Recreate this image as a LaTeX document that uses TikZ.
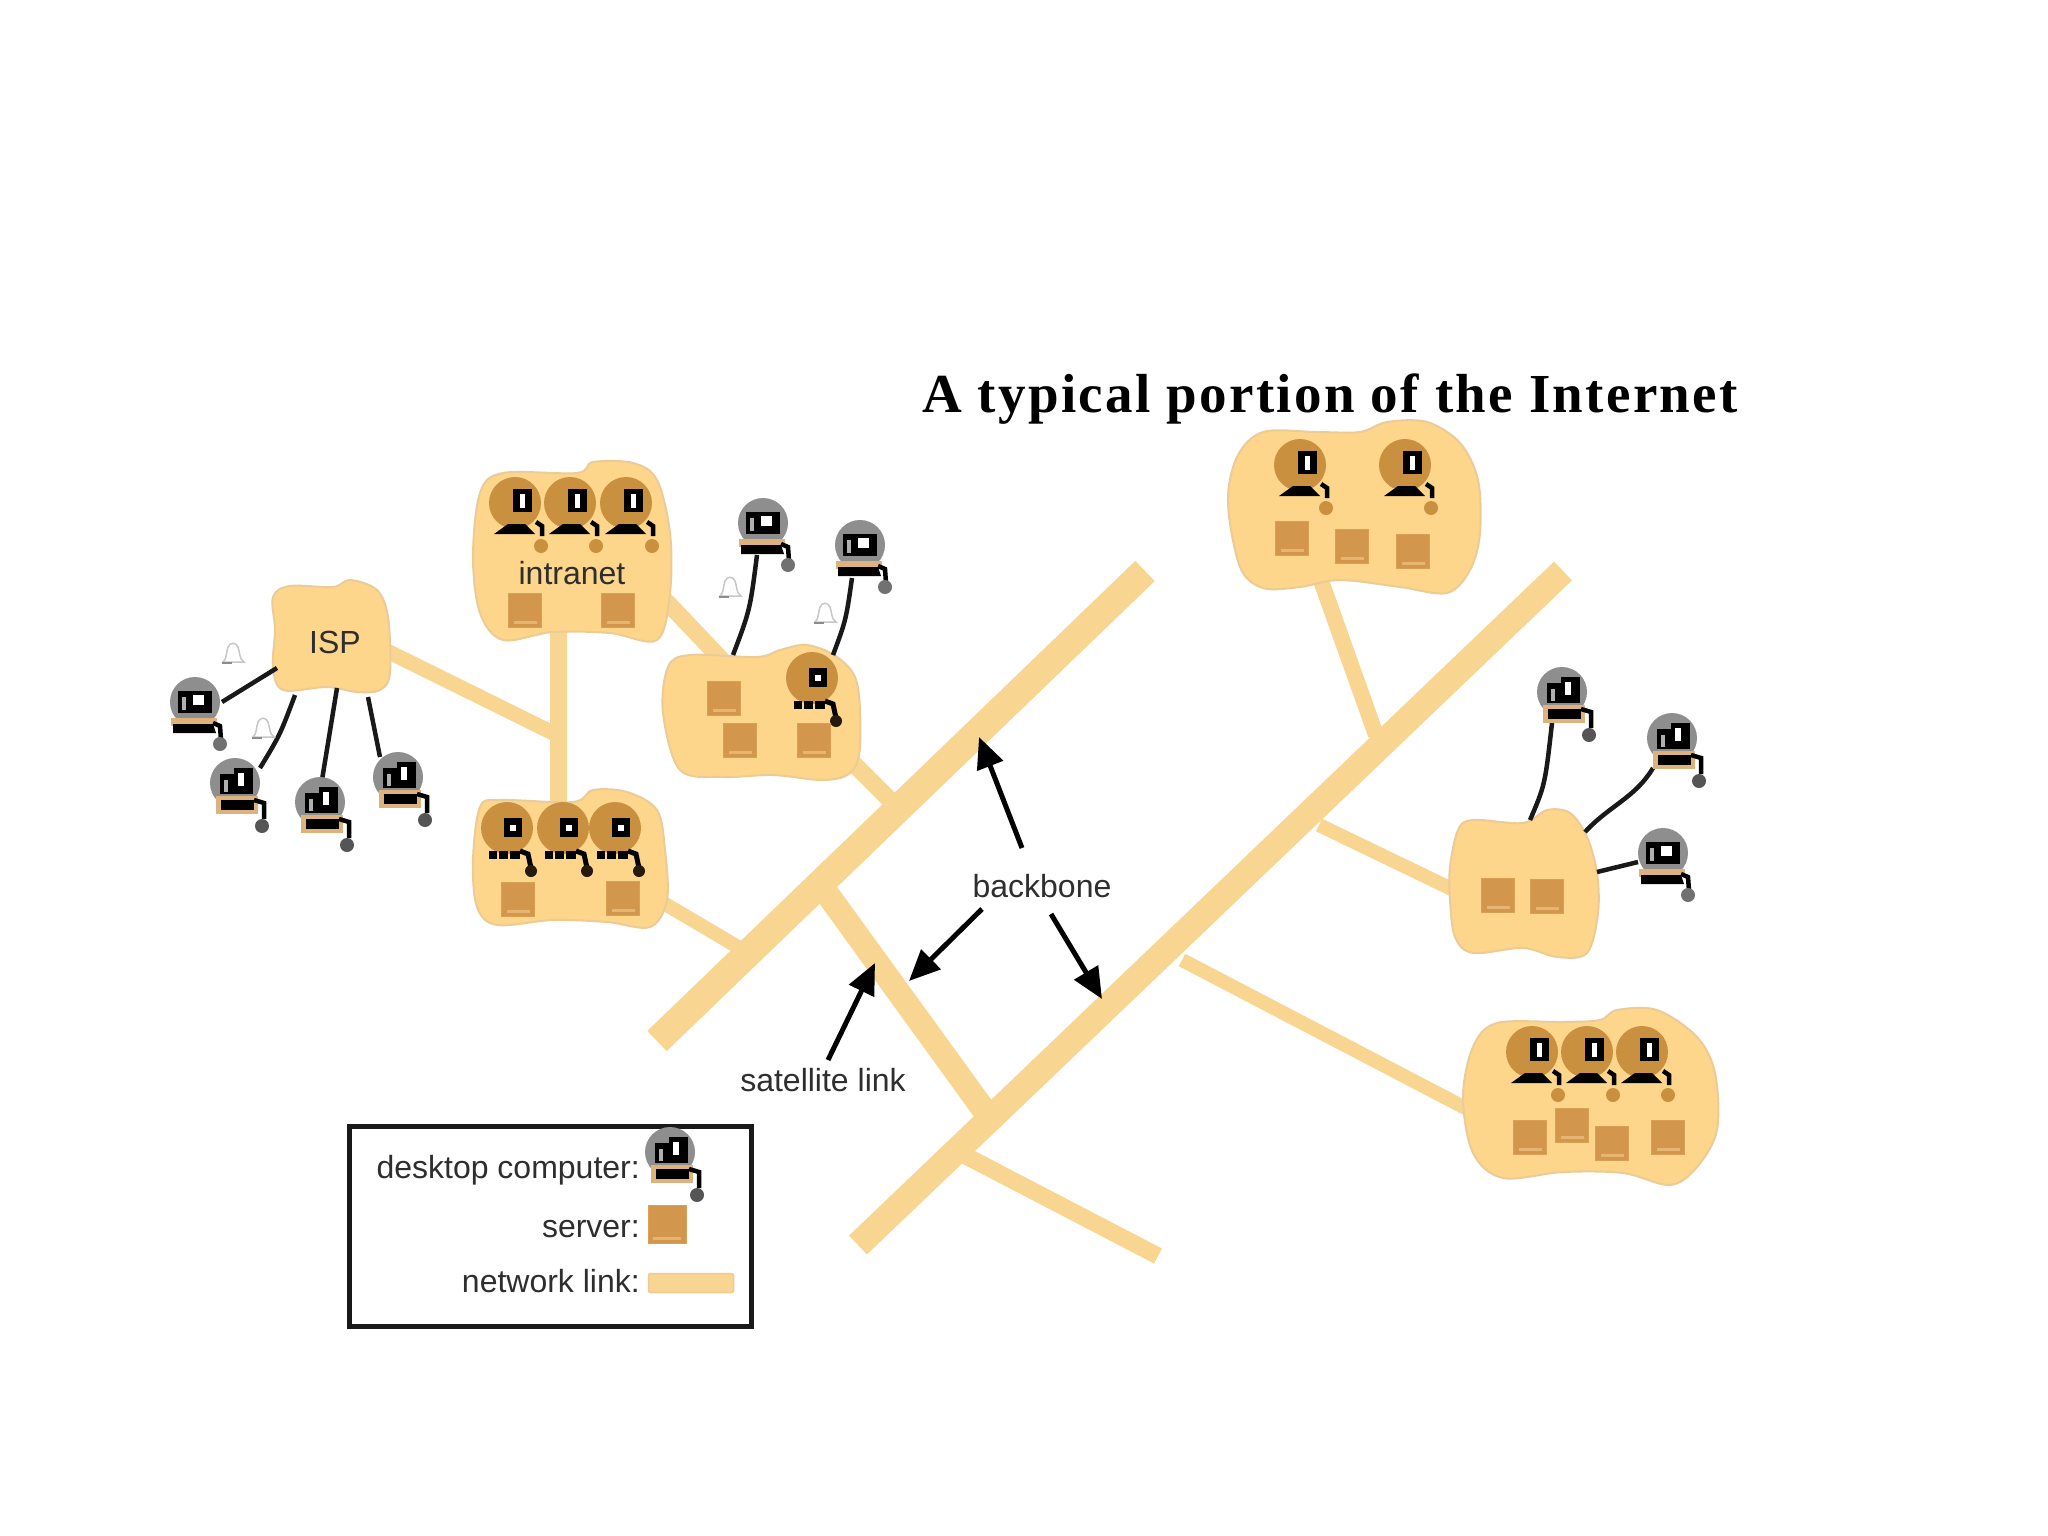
\documentclass[tikz,border=0pt]{standalone}
\usepackage{fontspec}
\setmainfont{Liberation Sans}
\newfontfamily\titlefont[LetterSpace=4.2]{Liberation Serif}
\usetikzlibrary{arrows.meta,shapes.geometric}
\definecolor{cloudfill}{HTML}{FDD68B}
\definecolor{cloudedge}{HTML}{EBCB96}
\definecolor{linkfill}{HTML}{F9D592}
\definecolor{srvfill}{HTML}{D2964C}
\definecolor{srvlight}{HTML}{E6B571}
\definecolor{pcbrown}{HTML}{C9913F}
\definecolor{pcgray}{HTML}{8E8E8E}
\definecolor{pctan}{HTML}{DDB27C}
\definecolor{inktext}{HTML}{2E2E2E}
\tikzset{
  cloudshape/.style={fill=cloudfill,draw=cloudedge,line width=2pt},
  netlink/.style={draw=linkfill,line cap=butt},
  wire/.style={draw=black!90,line width=4.5pt},
  callout/.style={draw=black,line width=5pt,-{Triangle[length=31pt,width=27pt]}},
  serverbox/.style={rectangle,fill=srvfill,draw=srvfill!85!cloudfill,line width=1pt,minimum width=33pt,minimum height=34pt,inner sep=0pt,
    path picture={\fill[srvlight] ([xshift=5pt,yshift=3pt]path picture bounding box.south west) rectangle ([xshift=-5pt,yshift=6pt]path picture bounding box.south east);}},
  lbl/.style={text=inktext,font=\fontsize{32}{36}\selectfont,inner sep=0pt,anchor=base},
  lblr/.style={lbl,anchor=base east},
  pics/extA/.style={code={
    \fill[pcgray] (0,0) circle[radius=25];
    \fill[pctan] (-24,16) rectangle (22,24);
    \fill[black] (-17,-11) rectangle (17,11);
    \fill[pcgray!70!white] (-13,-5) rectangle (-9,8);
    \fill[white] (-2,-7) rectangle (9,3);
    \fill[black] (-22,22) -- (18,22) -- (21,31) -- (-22,31) -- cycle;
    \draw[black,line width=4.5pt] (18,21) -- (25,24) -- (26,38);
    \fill[pcgray!80!black] (25,42) circle[radius=7];
  }},
  pics/extB/.style={code={
    \fill[pcgray] (0,0) circle[radius=25];
    \fill[pctan] (-19,13) rectangle (23,31);
    \fill[black] (-15,-9) rectangle (-1,11);
    \fill[black] (-1,-15) rectangle (18,11);
    \fill[white] (3,-10) rectangle (9,3);
    \fill[pcgray!70!white] (-11,-3) rectangle (-7,9);
    \fill[black] (-14,17) rectangle (19,27);
    \draw[black,line width=4.5pt] (19,17) -- (29,20) -- (29,36);
    \fill[pcgray!60!black] (27,43) circle[radius=7];
  }},
  pics/brownA/.style={code={
    \fill[pcbrown] (0,0) circle[radius=26];
    \fill[black] (-2,-14) rectangle (17,9);
    \fill[white] (5,-9) rectangle (10,5);
    \fill[black] (-7,21) -- (10,21) -- (20,31) -- (-21,31) -- cycle;
    \draw[black,line width=4.5pt] (21,19) -- (27,23) -- (27,33);
    \fill[pcbrown] (26,43) circle[radius=7];
  }},
  pics/brownB/.style={code={
    \fill[pcbrown] (0,0) circle[radius=26];
    \fill[black] (-3,-10) rectangle (15,9);
    \fill[white] (3,-3) rectangle (9,3);
    \draw[black,line width=8pt] (-18,27) -- (-10,27) (-8,27) -- (1,27) (3,27) -- (13,27);
    \draw[black,line width=5pt] (13,23) -- (21,26) -- (24,40);
    \fill[black!80!brown] (24,43) circle[radius=6];
  }},
  pics/bell/.style={code={
    \draw[black!22,line width=1.5pt] (-10,9) .. controls (-6,6) and (-7,-1) .. (-5,-6) .. controls (-3,-11) and (3,-11) .. (5,-6) .. controls (7,-1) and (6,6) .. (11,9) -- cycle;
    \draw[black!45,line width=2pt] (-11,10) -- (-1,10);
  }},
}
\begin{document}
\begin{tikzpicture}[x=1pt,y=-1pt]
\useasboundingbox (0,0) rectangle (2048,1536);
\fill[white] (0,0) rectangle (2048,1536);

% link end points
\coordinate (bb1a) at (657,1041); \coordinate (bb1b) at (1145,571);
\coordinate (bb2a) at (858,1245); \coordinate (bb2b) at (1563,571);
\coordinate (sata) at (823,888);  \coordinate (satb) at (989,1117);
\coordinate (spura) at (966,1156); \coordinate (spurb) at (1158,1256);
\coordinate (tra) at (1319,575); \coordinate (trb) at (1376,735);
\coordinate (ra) at (1319,825); \coordinate (rb) at (1460,893);
\coordinate (bra) at (1182,960); \coordinate (brb) at (1475,1113);
\coordinate (ispa) at (385,650); \coordinate (ispb) at (553,733);
\coordinate (inta) at (558,620); \coordinate (intb) at (558,810);
\coordinate (intc) at (665,600); \coordinate (midc) at (722,660);
\coordinate (midd) at (850,760); \coordinate (bb1c) at (890,800);
\coordinate (blc) at (655,898); \coordinate (bb1d) at (738,947);

% links
\draw[netlink,line width=28pt] (bb1a) -- (bb1b);
\draw[netlink,line width=26pt] (bb2a) -- (bb2b);
\draw[netlink,line width=24pt] (sata) -- (satb);
\draw[netlink,line width=17pt] (spura) -- (spurb);
\draw[netlink,line width=16pt] (tra) -- (trb);
\draw[netlink,line width=14pt] (ra) -- (rb);
\draw[netlink,line width=14pt] (bra) -- (brb);
\draw[netlink,line width=15pt] (ispa) -- (ispb);
\draw[netlink,line width=17pt] (inta) -- (intb);
\draw[netlink,line width=17pt] (intc) -- (midc);
\draw[netlink,line width=17pt] (midd) -- (bb1c);
\draw[netlink,line width=14pt] (blc) -- (bb1d);

% clouds
\draw[cloudshape] plot[smooth cycle,tension=0.55] coordinates {(273,597) (290,586) (333,587) (350,580) (377,590) (388,617) (390,673) (380,690) (357,692) (327,687) (283,690) (273,667) (275,630)};
\draw[cloudshape] plot[smooth cycle,tension=0.55] coordinates {(473,557) (480,493) (503,473) (577,473) (593,462) (633,463) (657,480) (670,533) (670,593) (657,640) (610,633) (553,632) (503,640) (480,613)};
\draw[cloudshape] plot[smooth cycle,tension=0.55] coordinates {(473,860) (480,807) (500,800) (573,802) (593,790) (627,792) (657,810) (665,850) (667,900) (650,927) (607,922) (553,920) (497,925) (477,907)};
\draw[cloudshape] plot[smooth cycle,tension=0.55] coordinates {(668,667) (690,655) (757,657) (780,650) (807,645) (837,657) (857,683) (860,747) (850,773) (823,780) (773,775) (723,777) (680,770) (663,713)};
\draw[cloudshape] plot[smooth cycle,tension=0.55] coordinates {(1228,503) (1237,457) (1263,432) (1317,432) (1360,432) (1387,422) (1427,422) (1460,443) (1478,480) (1480,533) (1470,570) (1447,593) (1400,587) (1340,580) (1300,587) (1263,588) (1240,567)};
\draw[cloudshape] plot[smooth cycle,tension=0.55] coordinates {(1450,867) (1458,830) (1473,820) (1523,823) (1547,810) (1570,813) (1587,837) (1597,873) (1598,913) (1587,953) (1557,957) (1523,948) (1473,953) (1455,937) (1450,900)};
\draw[cloudshape] plot[smooth cycle,tension=0.55] coordinates {(1463,1097) (1473,1047) (1497,1023) (1563,1022) (1600,1020) (1617,1010) (1657,1010) (1697,1037) (1715,1073) (1717,1130) (1697,1167) (1670,1185) (1623,1173) (1563,1172) (1503,1178) (1473,1153)};

% wire end points
\coordinate (w1a) at (222,702); \coordinate (w1b) at (277,668);
\coordinate (w2a) at (260,768); \coordinate (w2b) at (295,695);
\coordinate (w3a) at (322,780); \coordinate (w3b) at (337,688);
\coordinate (w4a) at (380,757); \coordinate (w4b) at (368,697);
\coordinate (w5a) at (757,555); \coordinate (w5b) at (733,655);
\coordinate (w6a) at (852,578); \coordinate (w6b) at (833,655);
\coordinate (w7a) at (1552,723); \coordinate (w7b) at (1530,820);
\coordinate (w8a) at (1653,768); \coordinate (w8b) at (1585,832);
\coordinate (w9a) at (1638,862); \coordinate (w9b) at (1597,872);

% wires
\draw[wire] (w1a) -- (w1b);
\draw[wire] (w2a) .. controls (280,735) .. (w2b);
\draw[wire] (w3a) -- (w3b);
\draw[wire] (w4a) -- (w4b);
\draw[wire] (w5a) .. controls (750,610) .. (w5b);
\draw[wire] (w6a) .. controls (846,620) .. (w6b);
\draw[wire] (w7a) .. controls (1545,785) .. (w7b);
\draw[wire] (w8a) .. controls (1635,798) and (1610,805) .. (w8b);
\draw[wire] (w9a) -- (w9b);

% external computers
\pic (e1) at (195,702) {extA};
\pic (e2) at (235,783) {extB};
\pic (e3) at (320,802) {extB};
\pic (e4) at (398,777) {extB};
\pic (e5) at (763,523) {extA};
\pic (e6) at (860,545) {extA};
\pic (e7) at (1562,692) {extB};
\pic (e8) at (1672,738) {extB};
\pic (e9) at (1663,853) {extA};

% bells
\pic (b1) at (233,653) {bell};
\pic (b2) at (263,728) {bell};
\pic (b3) at (730,587) {bell};
\pic (b4) at (825,613) {bell};

% computers inside clouds
\pic (c1) at (515,503) {brownA};
\pic (c2) at (570,503) {brownA};
\pic (c3) at (626,503) {brownA};
\pic (c4) at (507,828) {brownB};
\pic (c5) at (563,828) {brownB};
\pic (c6) at (615,828) {brownB};
\pic (c7) at (812,678) {brownB};
\pic (c8) at (1300,465) {brownA};
\pic (c9) at (1405,465) {brownA};
\pic (c10) at (1532,1052) {brownA};
\pic (c11) at (1587,1052) {brownA};
\pic (c12) at (1642,1052) {brownA};

% servers
\node[serverbox] (s1) at (525,610) {};
\node[serverbox] (s2) at (618,610) {};
\node[serverbox] (s3) at (518,899) {};
\node[serverbox] (s4) at (623,898) {};
\node[serverbox] (s5) at (724,698) {};
\node[serverbox] (s6) at (740,740) {};
\node[serverbox] (s7) at (814,740) {};
\node[serverbox] (s8) at (1292,538) {};
\node[serverbox] (s9) at (1352,546) {};
\node[serverbox] (s10) at (1413,551) {};
\node[serverbox] (s11) at (1498,895) {};
\node[serverbox] (s12) at (1547,896) {};
\node[serverbox] (s13) at (1530,1137) {};
\node[serverbox] (s14) at (1572,1125) {};
\node[serverbox] (s15) at (1612,1143) {};
\node[serverbox] (s16) at (1668,1137) {};

% labels
\node[inner sep=0pt,anchor=base,font=\titlefont\bfseries\fontsize{55}{60}\selectfont] (title) at (1330,412) {A typical portion of the Internet};
\node[lbl] (isp) at (335,653) {ISP};
\node[lbl] (intranet) at (572,584) {intranet};
\node[lbl] (backbone) at (1042,897) {backbone};
\node[lbl] (satellite) at (823,1091) {satellite link};

% callout arrows
\coordinate (ca1) at (1022,848); \coordinate (cb1) at (979,737);
\coordinate (ca2) at (982,909);  \coordinate (cb2) at (909,981);
\coordinate (ca3) at (1051,914); \coordinate (cb3) at (1102,999);
\coordinate (ca4) at (828,1060); \coordinate (cb4) at (875,963);
\draw[callout] (ca1) -- (cb1);
\draw[callout] (ca2) -- (cb2);
\draw[callout] (ca3) -- (cb3);
\draw[callout] (ca4) -- (cb4);

% legend
\node[draw=black!90,line width=5pt,fill=white,minimum width=402pt,minimum height=200pt,inner sep=0pt] (legend) at (550,1226) {};
\node[lblr] (ldesk) at (640,1178) {desktop computer:};
\node[lblr] (lserv) at (640,1237) {server:};
\node[lblr] (llink) at (640,1292) {network link:};
\pic (lpc) at (670,1152) {extB};
\node[serverbox,minimum width=38pt,minimum height=38pt] (lsrv) at (667,1224) {};
\node[rectangle,fill=linkfill,draw=cloudedge,line width=1.5pt,rounded corners=2pt,minimum width=85pt,minimum height=19pt,inner sep=0pt] (lnk) at (691,1283) {};
\end{tikzpicture}
\end{document}
